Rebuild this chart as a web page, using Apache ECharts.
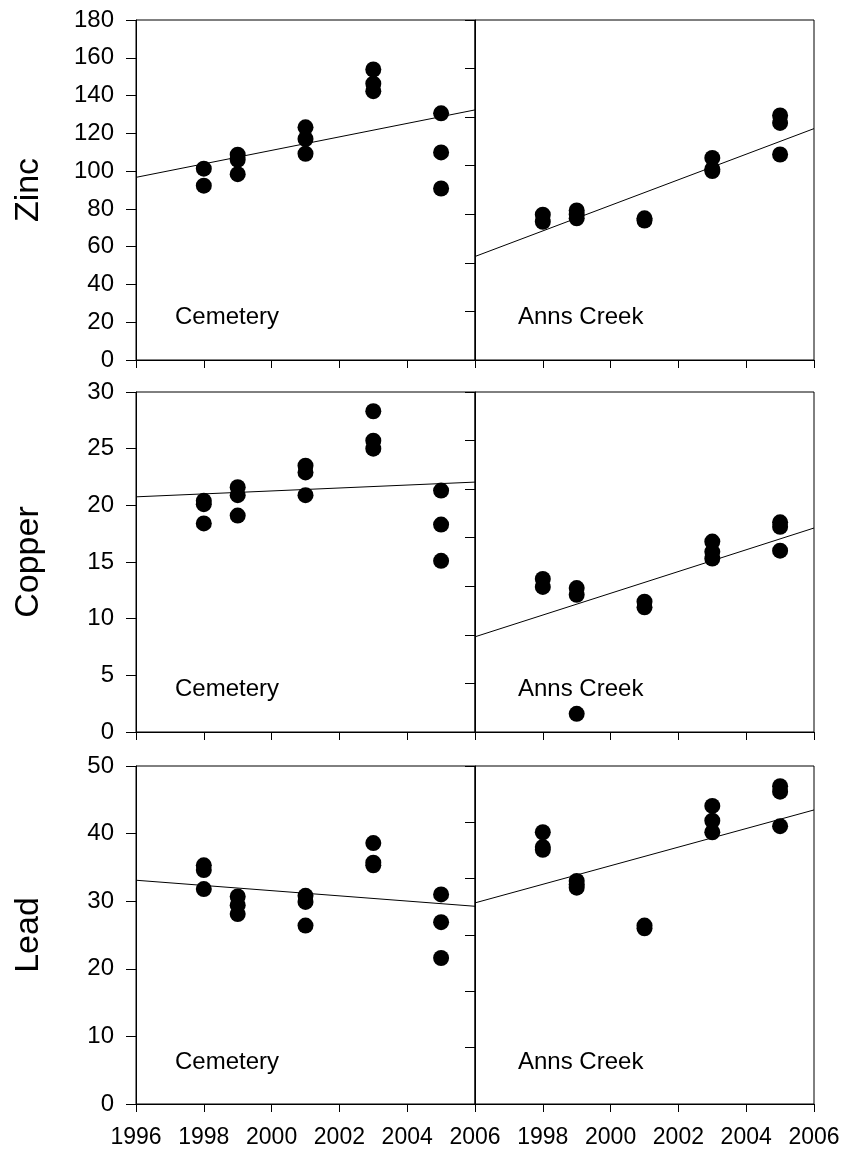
<!DOCTYPE html>
<html>
<head>
<meta charset="utf-8">
<script src="https://cdn.jsdelivr.net/npm/echarts@6/dist/echarts.min.js"></script>
<style>
html, body { margin: 0; padding: 0; background: #fff; }
#chart { width: 843px; height: 1149px; }
</style>
</head>
<body>
<div id="chart"></div>
<script>
'use strict';

var metals = ['Zinc', 'Copper', 'Lead'];
var sites = ['Cemetery', 'Anns Creek'];
var fitYears = [1996, 2006];

// [year, concentration]
var zincCemetery = [[1998, 101.3], [1998, 92.3], [1999, 108.7], [1999, 106], [1999, 98.4],
    [2001, 123.2], [2001, 117], [2001, 109.2], [2003, 153.8], [2003, 146.3], [2003, 142.3],
    [2005, 130.6], [2005, 109.9], [2005, 90.8]];
var zincAnnsCreek = [[1998, 76.9], [1998, 73.2], [1999, 79.2], [1999, 77], [1999, 75],
    [2001, 75], [2001, 73.8], [2003, 107], [2003, 101], [2003, 100],
    [2005, 129.5], [2005, 125.5], [2005, 108.8]];
var copperCemetery = [[1998, 20.4], [1998, 20.1], [1998, 18.4], [1999, 21.6], [1999, 20.9], [1999, 19.1],
    [2001, 23.5], [2001, 22.9], [2001, 20.9], [2003, 28.3], [2003, 25.7], [2003, 25.0],
    [2005, 21.3], [2005, 18.3], [2005, 15.1]];
var copperAnnsCreek = [[1998, 13.5], [1998, 12.8], [1999, 12.7], [1999, 12.1], [1999, 1.6],
    [2001, 11.5], [2001, 11.0], [2003, 16.8], [2003, 15.9], [2003, 15.3],
    [2005, 18.5], [2005, 18.1], [2005, 16.0]];
var leadCemetery = [[1998, 35.3], [1998, 34.6], [1998, 31.8], [1999, 30.7], [1999, 29.4], [1999, 28.1],
    [2001, 30.8], [2001, 29.9], [2001, 26.4], [2003, 38.6], [2003, 35.7], [2003, 35.3],
    [2005, 31.0], [2005, 26.9], [2005, 21.6]];
var leadAnnsCreek = [[1998, 40.2], [1998, 38.0], [1998, 37.6], [1999, 33.0], [1999, 32.5], [1999, 32.0],
    [2001, 26.4], [2001, 26.0], [2003, 44.1], [2003, 41.9], [2003, 40.2],
    [2005, 47.0], [2005, 46.2], [2005, 41.1]];

// regression line values at 1996 and 2006
var zincCemeteryFit = [96.7, 132.4];
var zincAnnsCreekFit = [54.8, 122.5];
var copperCemeteryFit = [20.75, 22.05];
var copperAnnsCreekFit = [8.4, 18.0];
var leadCemeteryFit = [33.1, 29.25];
var leadAnnsCreekFit = [29.75, 43.5];

var yMax = [180, 30, 50];
var yStep = [20, 5, 10];

var points = [[zincCemetery, zincAnnsCreek], [copperCemetery, copperAnnsCreek], [leadCemetery, leadAnnsCreek]];
var fits = [[zincCemeteryFit, zincAnnsCreekFit], [copperCemeteryFit, copperAnnsCreekFit], [leadCemeteryFit, leadAnnsCreekFit]];

var FONT = '"Liberation Sans", Arial, sans-serif';
var rowTop = [20, 392, 766];
var rowHeight = [340, 340, 339];
var colLeft = [136, 475];
var colWidth = 339;
var siteTextOffset = [39, 43];
// the right panels carry their own (unlabelled) tick scale
var rightTickMax = [140, 35, 60];

var grids = [], xAxes = [], yAxes = [], series = [], graphics = [];

metals.forEach(function(metal, r) {
    sites.forEach(function(site, c) {
        var g = grids.length;
        grids.push({
            left: colLeft[c], top: rowTop[r], width: colWidth, height: rowHeight[r],
            show: true, borderColor: '#000', borderWidth: 1
        });
        xAxes.push({
            gridIndex: g, type: 'value', min: 1996, max: 2006, interval: 2,
            axisLine: { show: true, lineStyle: { color: '#000', width: 1 } },
            axisTick: { show: true, inside: false, length: 8, lineStyle: { color: '#000' } },
            splitLine: { show: false },
            axisLabel: {
                show: r === 2, showMinLabel: c === 0, margin: 22,
                color: '#000', fontSize: 23, fontFamily: FONT,
                formatter: function(v) { return String(v); }
            }
        });
        var dataAxis;
        if (c === 0) {
            dataAxis = yAxes.length;
            yAxes.push({
                gridIndex: g, type: 'value', position: 'left', min: 0, max: yMax[r], interval: yStep[r],
                name: metal, nameLocation: 'middle', nameGap: 90,
                nameTextStyle: { color: '#000', fontSize: 34, fontFamily: FONT },
                axisLine: { show: true, lineStyle: { color: '#000', width: 1 } },
                axisTick: { show: true, inside: false, length: 10, lineStyle: { color: '#000' } },
                splitLine: { show: false },
                axisLabel: { margin: 22, color: '#000', fontSize: 24, fontFamily: FONT }
            });
        } else {
            yAxes.push({
                gridIndex: g, type: 'value', position: 'left', min: 0, max: rightTickMax[r],
                interval: rightTickMax[r] / (r === 2 ? 6 : 7),
                axisLine: { show: true, lineStyle: { color: '#000', width: 1 } },
                axisTick: { show: true, inside: false, length: 10, lineStyle: { color: '#000' } },
                splitLine: { show: false },
                axisLabel: { show: false }
            });
            dataAxis = yAxes.length;
            yAxes.push({
                gridIndex: g, type: 'value', position: 'right', min: 0, max: yMax[r], show: false
            });
        }
        series.push({
            type: 'line', xAxisIndex: g, yAxisIndex: dataAxis,
            data: fitYears.map(function(yr, i) { return [yr, fits[r][c][i]]; }),
            showSymbol: false, silent: true,
            lineStyle: { color: '#000', width: 1 }
        });
        series.push({
            type: 'scatter', xAxisIndex: g, yAxisIndex: dataAxis,
            data: points[r][c], symbol: 'circle', symbolSize: 16,
            itemStyle: { color: '#000', opacity: 1 }
        });
        graphics.push({
            type: 'text',
            left: colLeft[c] + siteTextOffset[c],
            top: rowTop[r] + rowHeight[r] - 55,
            style: { text: site, fill: '#000', fontSize: 24, fontFamily: FONT }
        });
    });
});

var myChart = echarts.init(document.getElementById('chart'));
myChart.setOption({
    animation: false,
    backgroundColor: '#fff',
    grid: grids,
    xAxis: xAxes,
    yAxis: yAxes,
    series: series,
    graphic: graphics
});
</script>
</body>
</html>
